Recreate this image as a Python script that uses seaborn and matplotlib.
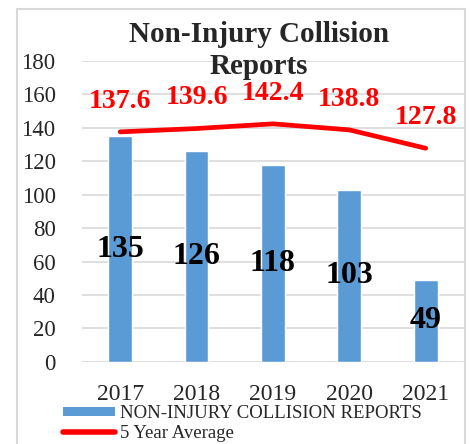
import matplotlib
matplotlib.use("Agg")
import matplotlib.pyplot as plt
import numpy as np
import seaborn as sns
from matplotlib.patches import Patch, Rectangle
from matplotlib.lines import Line2D

years = ["2017", "2018", "2019", "2020", "2021"]
reports = [135, 126, 118, 103, 49]
five_year_avg = [137.6, 139.6, 142.4, 138.8, 127.8]

BLUE = "#5B9BD5"
RED = "#FF0000"
GRID = "#D9D9D9"

sns.set_style("white")
plt.rcParams["font.family"] = ["Liberation Serif", "DejaVu Serif"]

fig = plt.figure(figsize=(4.70, 4.44), dpi=100)
ax = fig.add_axes([0.1745, 0.185, 0.8125, 0.6776])

sns.barplot(x=years, y=reports, color=BLUE, saturation=1, width=0.31, ax=ax, zorder=2)
sns.lineplot(x=np.arange(len(years)), y=five_year_avg, color=RED, linewidth=3.4,
             ax=ax, zorder=3, solid_capstyle="round")

# bar value labels, centred in the bars
for i, v in enumerate(reports):
    ax.annotate(str(v), (i, v / 2), ha="center", va="center",
                fontsize=23, fontweight="bold", color="black", zorder=4)

# average labels above the line
for i, v in enumerate(five_year_avg):
    ax.annotate(f"{v:.1f}", (i, v), xytext=(0, 22), textcoords="offset points",
                ha="center", va="center", fontsize=20, fontweight="bold",
                color=RED, zorder=4)

ax.set_ylim(0, 180)
ax.set_yticks(range(0, 181, 20))
ax.set_xlim(-0.5, 4.5)
ax.yaxis.grid(True, color=GRID, linewidth=1.2, zorder=0)
ax.set_axisbelow(True)
for s in ax.spines.values():
    s.set_visible(False)
ax.tick_params(axis="y", length=0, pad=19, labelsize=16.5)
ax.tick_params(axis="x", length=0, pad=16, labelsize=17)
ax.set_xlabel("")
ax.set_ylabel("")

fig.text(0.551, 1 - 21 / 444, "Non-Injury Collision\nReports", ha="center", va="top",
         fontsize=21, fontweight="bold", linespacing=1.25)

handles = [Patch(facecolor=BLUE, edgecolor="none"),
           Line2D([0], [0], color=RED, linewidth=4, solid_capstyle="round")]
fig.legend(handles, ["NON-INJURY COLLISION REPORTS", "5 Year Average"],
           loc="upper left", bbox_to_anchor=(63 / 470, 1 - 405 / 444),
           frameon=False, fontsize=13.5, handlelength=2.75, handleheight=0.4,
           handletextpad=0.3, labelspacing=0.15, borderpad=0, borderaxespad=0)

fig.patches.append(Rectangle((17 / 470, -0.1), (465 - 17) / 470, 1 - 9 / 444 + 0.1,
                             transform=fig.transFigure, fill=False,
                             edgecolor=GRID, linewidth=1.5, zorder=-1))

fig.savefig("out.png", dpi=100)
